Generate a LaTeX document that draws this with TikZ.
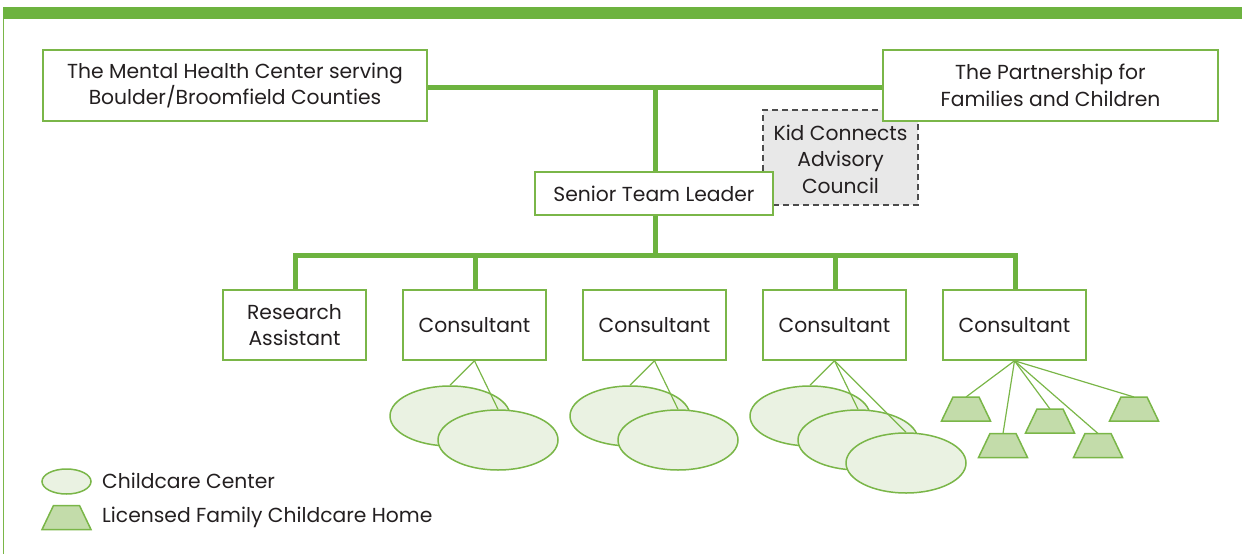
\documentclass[tikz,border=0pt]{standalone}
\usepackage{fontspec}
\setmainfont{Poppins}
\usetikzlibrary{shapes.geometric}
\definecolor{gbar}{HTML}{6DB33F}
\definecolor{gline}{HTML}{7AB648}
\definecolor{efill}{HTML}{EAF2E2}
\definecolor{tfill}{HTML}{C3DCAA}
\definecolor{txt}{HTML}{231F20}
\definecolor{kfill}{HTML}{E8E8E8}
\begin{document}
\begin{tikzpicture}[x=1pt,y=-1pt,
  font=\fontsize{20.3}{26.5}\selectfont, text=txt,
  orgbox/.style={draw=gline, line width=1.6pt, fill=white, inner sep=0pt, align=center},
  conn/.style={draw=gbar, line width=5pt},
  thin/.style={draw=gline, line width=1.2pt},
  center/.style={ellipse, draw=gline, line width=1.5pt, fill=efill, minimum width=120pt, minimum height=60pt, inner sep=0pt},
  hometrap/.pic={\draw[gline, line width=1.5pt, fill=tfill] (-24.5,12) -- (24.5,12) -- (13,-12) -- (-13,-12) -- cycle; \coordinate (-top) at (0,-12);},
  lbl/.style={anchor=west, inner sep=0pt}]
\useasboundingbox (0,0) rectangle (1242,554);
\fill[gbar] (3,7) rectangle (1242,19);
\draw[gline, line width=0.8pt] (3,19) -- (3,554);
% Kid connects (behind)
\node[draw=black!70, dash pattern=on 6pt off 4pt, line width=1.2pt, fill=kfill, minimum width=155pt, minimum height=95pt, inner sep=0pt] (kid) at (840.5,157.5) {};
\node[inner sep=0pt, align=center] (kidtxt) at (840.5,159) {Kid Connects\\Advisory\\Council};
% connectors
\coordinate (jt) at (655,87);
\coordinate (jb) at (655,255);
\draw[conn] (427,87) -- (883,87);
\draw[conn] (jt) -- (jb);
\draw[conn] (295,290) -- (295,255) -- (1015,255) -- (1015,290);
\draw[conn] (475,255) -- (475,290);
\draw[conn] (835,255) -- (835,290);
% top boxes
\node[orgbox, minimum width=384pt, minimum height=71pt] (mhc) at (235,85.5) {The Mental Health Center serving\\Boulder/Broomfield Counties};
\node[orgbox, minimum width=335pt, minimum height=71pt] (pfc) at (1050.5,85.5) {The Partnership for\\Families and Children};
\node[orgbox, minimum width=238pt, minimum height=43pt] (stl) at (654,193.5) {Senior Team Leader};
% second row
\node[orgbox, minimum width=143pt, minimum height=70pt] (ra) at (294.5,325) {Research\\Assistant};
\node[orgbox, minimum width=143pt, minimum height=70pt] (c1) at (474.5,325) {Consultant};
\node[orgbox, minimum width=143pt, minimum height=70pt] (c2) at (654.5,325) {Consultant};
\node[orgbox, minimum width=143pt, minimum height=70pt] (c3) at (834.5,325) {Consultant};
\node[orgbox, minimum width=143pt, minimum height=70pt] (c4) at (1014.5,325) {Consultant};
% childcare centers C1
\node[center] (e11) at (450,416) {};
\draw[thin] (c1.south) -- (e11.north);
\node[center] (e12) at (498,440) {};
\draw[thin] (c1.south) -- (e12.north);
% C2
\node[center] (e21) at (630,416) {};
\draw[thin] (c2.south) -- (e21.north);
\node[center] (e22) at (678,440) {};
\draw[thin] (c2.south) -- (e22.north);
% C3
\node[center] (e31) at (810,416) {};
\draw[thin] (c3.south) -- (e31.north);
\node[center] (e32) at (858,440) {};
\draw[thin] (c3.south) -- (e32.north);
\node[center] (e33) at (906,463) {};
\draw[thin] (c3.south) -- (e33.north);
% C4 homes
\pic (h1) at (966,409) {hometrap};
\pic (h2) at (1003,445.5) {hometrap};
\pic (h3) at (1050,421) {hometrap};
\pic (h4) at (1098,445.5) {hometrap};
\pic (h5) at (1134,409) {hometrap};
\foreach \h in {h1,h2,h3,h4,h5} \draw[thin] (c4.south) -- (\h-top);
% legend
\node[center, minimum width=49pt, minimum height=25pt] (le) at (66.5,481.5) {};
\node[lbl] (lt1) at (102,481) {Childcare Center};
\pic (lh) at (66.5,517.5) {hometrap};
\node[lbl] (lt2) at (102,517) {Licensed Family Childcare Home};
\end{tikzpicture}
\end{document}
